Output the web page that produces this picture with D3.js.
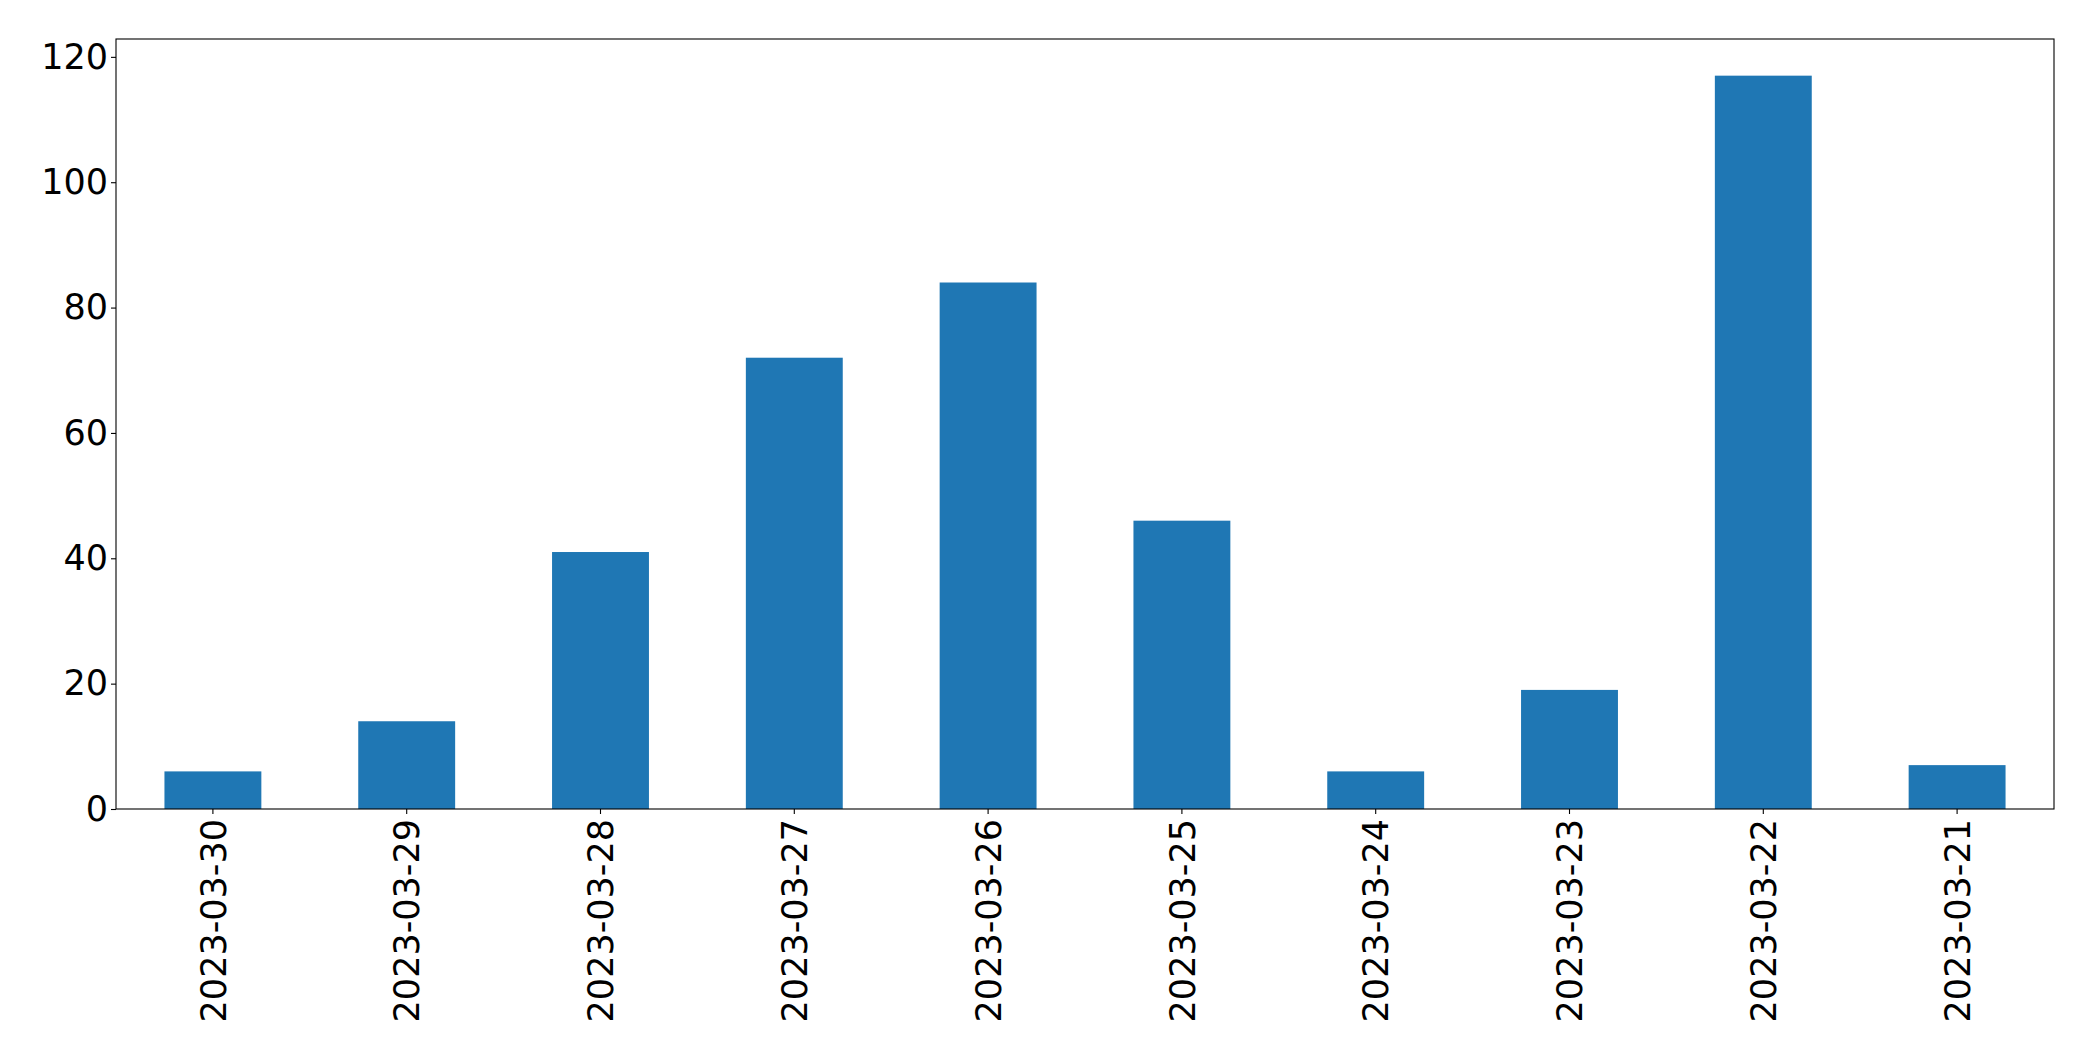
<!DOCTYPE html>
<html>
<head>
<meta charset="utf-8">
<script src="https://cdn.jsdelivr.net/npm/d3@7"></script>
<style>
  body { margin: 0; background: #fff; }
  .axis text { font-family: "DejaVu Sans", sans-serif; font-size: 35px; fill: #000; }
  .axis path, .axis line { stroke: #000; stroke-width: 1.1px; }
</style>
</head>
<body>
<script>
// data
var dates = ["2023-03-30", "2023-03-29", "2023-03-28", "2023-03-27", "2023-03-26",
             "2023-03-25", "2023-03-24", "2023-03-23", "2023-03-22", "2023-03-21"];
var counts = [6, 14, 41, 72, 84, 46, 6, 19, 117, 7];
var yTicks = [0, 20, 40, 60, 80, 100, 120];

// set up canvas
var margin = {top: 39, right: 39, bottom: 252, left: 116},
    width = 2093 - margin.left - margin.right,
    height = 1061 - margin.top - margin.bottom;

// scales (matplotlib style: bar width 0.5, y headroom 5%)
var x = d3.scaleBand().domain(dates).range([0, width])
          .paddingInner(0.5).paddingOuter(0.25),
    y = d3.scaleLinear().domain([0, d3.max(counts) * 1.05]).range([height, 0]);

var svg = d3.select("body")
    .append("svg")
    .attr("width", 2093)
    .attr("height", 1061)
    .append("g")
    .attr("transform", "translate(" + margin.left + "," + margin.top + ")");

// bars
svg.selectAll(".bar")
    .data(counts)
    .enter().append("rect")
    .attr("class", "bar")
    .attr("x", function(d, i) { return x(dates[i]); })
    .attr("y", function(d) { return y(d); })
    .attr("width", x.bandwidth())
    .attr("height", function(d) { return height - y(d); })
    .attr("fill", "#1f77b4");

// x axis
svg.append("g")
    .attr("class", "axis axis--x")
    .attr("transform", "translate(0," + height + ")")
    .call(d3.axisBottom(x).tickSizeInner(5).tickSizeOuter(0).tickPadding(5))
    .call(function(g) { g.select(".domain").remove(); })
    .selectAll("text")
    .attr("transform", "rotate(-90)")
    .attr("x", -10)
    .attr("y", 0)
    .attr("dy", "0.36em")
    .attr("text-anchor", "end");

// y axis
svg.append("g")
    .attr("class", "axis axis--y")
    .call(d3.axisLeft(y).tickValues(yTicks).tickSizeInner(5).tickSizeOuter(0).tickPadding(3))
    .call(function(g) { g.select(".domain").remove(); });

// frame
svg.append("rect")
    .attr("width", width)
    .attr("height", height)
    .attr("fill", "none")
    .attr("stroke", "#000")
    .attr("stroke-width", 1.1);
</script>
</body>
</html>
